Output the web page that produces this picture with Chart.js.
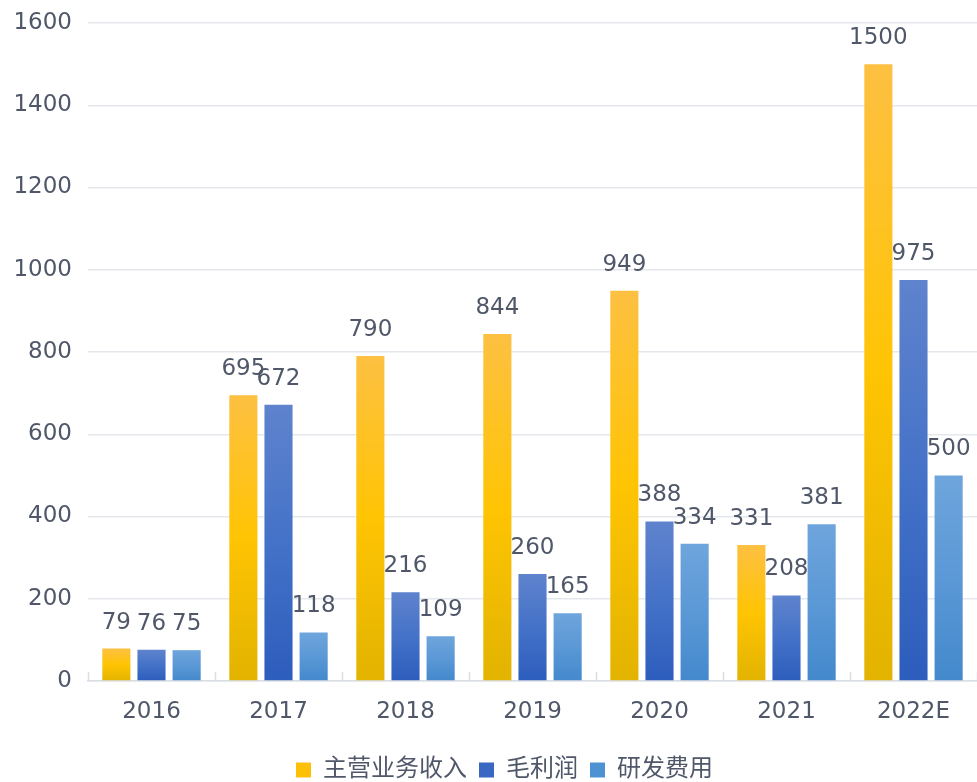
<!DOCTYPE html>
<html>
<head>
<meta charset="utf-8">
<script src="https://cdn.jsdelivr.net/npm/chart.js@4.4.0/dist/chart.umd.min.js"></script>
<style>
  html, body { margin: 0; padding: 0; background: #fff; }
  #wrap { width: 977px; height: 782px; position: relative; }
</style>
</head>
<body>
<div id="wrap"><canvas id="chart"></canvas></div>
<script>
const years = ["2016", "2017", "2018", "2019", "2020", "2021", "2022E"];
const revenue = [79, 695, 790, 844, 949, 331, 1500];
const grossProfit = [76, 672, 216, 260, 388, 208, 975];
const rdCost = [75, 118, 109, 165, 334, 381, 500];
const seriesNames = ["主营业务收入", "毛利润", "研发费用"];

const NUM_FONT = "'DejaVu Sans', 'Noto Sans CJK SC', sans-serif";
const TEXT_COLOR = "#4f5769";
const legendColors = ["#fcc106", "#3a66c4", "#4e92d4"];

// vertical gradient per bar: top -> middle -> bottom
const barGradient = (stops, solid) => (ctx) => {
  if (ctx.type !== "data" || !ctx.chart.chartArea) return solid;
  const chart = ctx.chart;
  const y = chart.scales.y;
  const top = y.getPixelForValue(ctx.parsed.y);
  const bottom = y.getPixelForValue(0);
  const g = chart.ctx.createLinearGradient(0, top, 0, bottom);
  g.addColorStop(0, stops[0]);
  g.addColorStop(0.5, stops[1]);
  g.addColorStop(1, stops[2]);
  return g;
};

const valueLabels = {
  id: "valueLabels",
  afterDatasetsDraw(chart) {
    const c = chart.ctx;
    c.save();
    c.font = "23px " + NUM_FONT;
    c.fillStyle = TEXT_COLOR;
    c.textAlign = "center";
    c.textBaseline = "alphabetic";
    chart.data.datasets.forEach((ds, i) => {
      chart.getDatasetMeta(i).data.forEach((bar, j) => {
        c.fillText(ds.data[j], bar.x, bar.y - 20);
      });
    });
    c.restore();
  },
};

// small marks pointing up from the x axis between categories
const xTickMarks = {
  id: "xTickMarks",
  afterDraw(chart) {
    const x = chart.scales.x;
    const n = x.ticks.length;
    const step = x.width / n;
    const c = chart.ctx;
    c.save();
    c.strokeStyle = "#d9dde4";
    c.lineWidth = 1.5;
    for (let i = 0; i <= n; i++) {
      const px = Math.round(x.left + i * step) + 0.5;
      c.beginPath();
      c.moveTo(px, x.top - 9);
      c.lineTo(px, x.top);
      c.stroke();
    }
    c.restore();
  },
};

// fixed legend height so it sits close to the bottom edge, nudged right a bit
const legendBox = {
  id: "legendBox",
  beforeInit(chart) {
    const origFit = chart.legend.fit;
    chart.legend.fit = function () {
      origFit.call(this);
      this.height = 36;
    };
  },
  afterLayout(chart) {
    chart.legend.left += 16;
    chart.legend.right += 16;
  },
};

const ctx = document.getElementById("chart").getContext("2d");
new Chart(ctx, {
  type: "bar",
  data: {
    labels: years,
    datasets: [
      {
        label: seriesNames[0],
        data: revenue,
        backgroundColor: barGradient(["#fdc042", "#ffc403", "#e2b300"], legendColors[0]),
      },
      {
        label: seriesNames[1],
        data: grossProfit,
        backgroundColor: barGradient(["#5f83cd", "#4472c8", "#2d5dbd"], legendColors[1]),
      },
      {
        label: seriesNames[2],
        data: rdCost,
        backgroundColor: barGradient(["#6ea5dc", "#5b98d6", "#4389cc"], legendColors[2]),
      },
    ],
  },
  options: {
    responsive: true,
    maintainAspectRatio: false,
    animation: false,
    categoryPercentage: 0.83,
    barPercentage: 0.8,
    layout: {
      padding: { top: 23, left: 0, right: 0, bottom: 0 },
    },
    scales: {
      x: {
        grid: { display: false },
        border: { display: true, color: "#d9dde4", width: 1.5 },
        ticks: {
          padding: 9,
          color: TEXT_COLOR,
          font: { family: NUM_FONT, size: 23 },
        },
        afterFit(scale) {
          scale.height = 65;
        },
      },
      y: {
        min: 0,
        max: 1600,
        ticks: {
          stepSize: 200,
          padding: 16,
          color: TEXT_COLOR,
          font: { family: NUM_FONT, size: 23 },
          callback: (v) => String(v),
        },
        grid: { color: "#e4e7ec", lineWidth: 1.5, drawTicks: false },
        border: { display: false },
        afterFit(scale) {
          scale.width = 88;
          scale.paddingTop = 0;
        },
      },
    },
    plugins: {
      tooltip: { enabled: false },
      legend: {
        position: "bottom",
        labels: {
          boxWidth: 15,
          boxHeight: 15,
          padding: 12,
          color: TEXT_COLOR,
          font: { family: NUM_FONT, size: 24 },
          generateLabels(chart) {
            const items = Chart.defaults.plugins.legend.labels.generateLabels(chart);
            items.forEach((it, i) => {
              it.fillStyle = legendColors[i];
              it.strokeStyle = legendColors[i];
              it.lineWidth = 0;
            });
            return items;
          },
        },
      },
    },
  },
  plugins: [valueLabels, xTickMarks, legendBox],
});
</script>
</body>
</html>
